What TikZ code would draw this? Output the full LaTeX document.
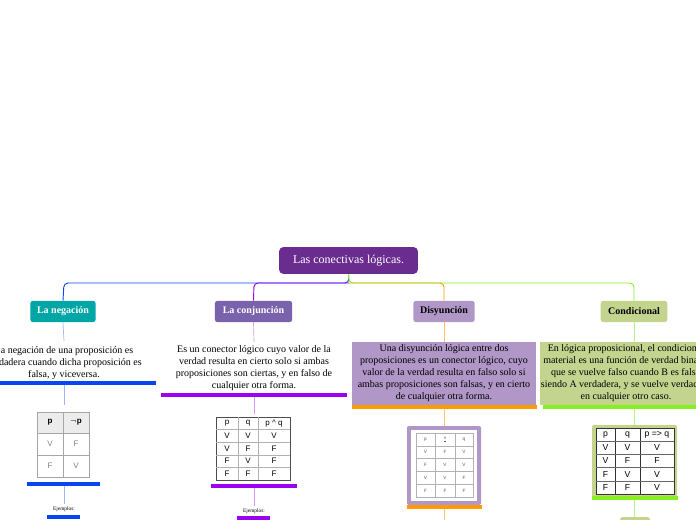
\documentclass[tikz,border=0pt]{standalone}
\usepackage{fontspec}
\setmainfont{Liberation Serif}
\newfontfamily\tabfont{Liberation Sans}
\definecolor{titlec}{HTML}{6A2C8E}
\definecolor{negc}{HTML}{00A6A6}
\definecolor{conc}{HTML}{7B62AC}
\definecolor{disc}{HTML}{B097C7}
\definecolor{cndc}{HTML}{C3D48F}
\definecolor{blueln}{HTML}{0A46F0}
\definecolor{purpln}{HTML}{9B00F0}
\definecolor{orgln}{HTML}{FF9A00}
\definecolor{grnln}{HTML}{88EE22}
\tikzset{
  topic/.style={rounded corners=2pt,minimum height=16pt,inner xsep=5pt,font=\fontsize{7.5}{9}\selectfont\bfseries},
  desc/.style={align=center,font=\fontsize{7.5}{9}\selectfont},
  uline/.style={line width=2.3pt},
  branch/.style={line width=0.7pt,rounded corners=3pt},
  stem/.style={line width=0.5pt},
  tabtxt/.style={font=\tabfont\fontsize{6}{7}\selectfont},
}
\begin{document}
\begin{tikzpicture}[x=0.75pt,y=-0.75pt]
  \useasboundingbox (0,0) rectangle (696,520);
  % central topic
  \node[fill=titlec,text=white,rounded corners=3pt,minimum width=104pt,minimum height=20pt,
        font=\fontsize{9}{11}\selectfont] (title) at (348.5,260.5) {Las conectivas lógicas.};
  \node[topic,fill=negc,text=white,minimum width=49pt] (neg) at (63,311.5) {La negación};
  \node[topic,fill=conc,text=white,minimum width=58pt] (con) at (253.5,311.5) {La conjunción};
  \node[topic,fill=disc,minimum width=46pt] (dis) at (444,311.5) {Disyunción};
  \node[topic,fill=cndc,minimum width=50pt] (cnd) at (634,311.5) {Condicional};
  % branches
  \draw[branch,blueln] (title.south) -- (349,283) -- (64,283) -- (neg.north);
  \draw[branch,purpln] (349,283) -- (254,283) -- (con.north);
  \draw[branch,orgln] (349,283) -- (444,283) -- (dis.north);
  \draw[branch,grnln] (title.south) -- (349,283) -- (634,283) -- (cnd.north);
  % la negacion
  \node[desc] (negtxt) at (64,363) {La negación de una proposición es\\verdadera cuando dicha proposición es\\falsa, y viceversa.};
  \draw[uline,blueln] (0,383) -- (156,383);
  \draw[stem,blueln!40] (neg.south) -- (64,341);
  \draw[stem,blueln!40] (64,385) -- (64,405);
  \fill[gray!15] (37,412) rectangle (89,433);
  \draw[gray!70] (37,412) rectangle (89,477) (63,412) -- (63,477) (37,433) -- (89,433) (37,455) -- (89,455);
  \foreach \x/\a/\b/\c in {50/p/V/F,76/$\neg$p/F/V}{
    \node[tabtxt] at (\x,422.5) {\textbf{\a}};
    \node[tabtxt,text=gray] at (\x,444) {\b};
    \node[tabtxt,text=gray] at (\x,466) {\c};}
  \draw[uline,blueln] (27,484) -- (100,484);
  \draw[stem,blueln!40] (64,486) -- (64,504);
  \node[font=\fontsize{4}{5}\selectfont] (negej) at (64,509) {Ejemplos:};
  \draw[uline,blueln] (47,517) -- (80,517);
  % la conjuncion
  \node[desc] (contxt) at (254,368) {Es un conector lógico cuyo valor de la\\verdad resulta en cierto solo si ambas\\proposiciones son ciertas, y en falso de\\cualquier otra forma.};
  \draw[stem,purpln!40] (con.south) -- (254,342);
  \draw[uline,purpln] (161,395) -- (347,395);
  \draw[stem,purpln!40] (254,397) -- (254,414);
  \draw[gray!60!black] (216,417) rectangle (290,480);
  \draw[gray!60] (238,417) -- (238,480) (258,417) -- (258,480);
  \foreach \y in {429.6,442.2,454.8,467.4} \draw[gray!60] (216,\y) -- (290,\y);
  \foreach \p/\q/\v [count=\i from 0] in {p/q/p \^{} q,V/V/V,V/F/F,F/V/F,F/F/F}{
    \node[tabtxt] at (227,423.3+12.6*\i) {\p};
    \node[tabtxt] at (248,423.3+12.6*\i) {\q};
    \node[tabtxt] at (274,423.3+12.6*\i) {\v};}
  \draw[uline,purpln] (211,486) -- (297,486);
  \draw[stem,purpln!40] (254,488) -- (254,506);
  \node[font=\fontsize{4}{5}\selectfont] (conej) at (254,511) {Ejemplos:};
  \draw[uline,purpln] (237,518) -- (270,518);
  % disyuncion
  \draw[stem,orgln!60] (dis.south) -- (444,342);
  \node[desc,fill=disc,minimum width=138pt,minimum height=47pt,inner sep=1pt] (distxt) at (444,373.5) {Una disyunción lógica entre dos\\proposiciones es un conector lógico, cuyo\\valor de la verdad resulta en falso solo si\\ambas proposiciones son falsas, y en cierto\\de cualquier otra forma.};
  \draw[uline,orgln] (352,407) -- (537,407);
  \draw[stem,orgln!60] (444,409) -- (444,426);
  \fill[disc,rounded corners=1pt] (407,426) rectangle (481,505);
  \fill[white] (411,430) rectangle (477,501);
  \draw[gray!60] (416,433) rectangle (473,497) (435,433) -- (435,497) (455,433) -- (455,497);
  \foreach \y in {445.8,458.6,471.4,484.2} \draw[gray!60] (416,\y) -- (473,\y);
  \foreach \p/\q/\v [count=\i from 0] in {p/\underline{v}/q,V/F/V,F/V/V,V/V/F,F/F/F}{
    \node[font=\tabfont\fontsize{3.5}{4}\selectfont,text=gray!70!black] at (425.5,439.4+12.8*\i) {\p};
    \node[font=\tabfont\fontsize{3.5}{4}\selectfont,text=gray!70!black] at (445,439.4+12.8*\i) {\q};
    \node[font=\tabfont\fontsize{3.5}{4}\selectfont,text=gray!70!black] at (464,439.4+12.8*\i) {\v};}
  \draw[uline,orgln] (407,507) -- (482,507);
  \draw[stem,orgln!60] (444,509) -- (444,520);
  % condicional
  \draw[stem,grnln!60] (cnd.south) -- (634,342);
  \node[desc,fill=cndc,minimum width=125pt,minimum height=47pt,inner sep=1pt] (cndtxt) at (626,373.5) {En lógica proposicional, el condicional\\material es una función de verdad binaria\\que se vuelve falso cuando B es falso\\siendo A verdadera, y se vuelve verdadero\\en cualquier otro caso.};
  \draw[uline,grnln] (543,407) -- (696,407);
  \draw[stem,grnln!60] (634,409) -- (634,425);
  \fill[cndc,rounded corners=1pt] (592,425) rectangle (677,497);
  \fill[white] (596,428) rectangle (674,494);
  \draw[black!80] (596,428) rectangle (674,494) (615,428) -- (615,494) (640,428) -- (640,494);
  \foreach \y in {441.2,454.4,467.6,480.8} \draw[black!60] (596,\y) -- (674,\y);
  \foreach \p/\q/\v [count=\i from 0] in {p/q/p => q,V/V/V,V/F/F,F/V/V,F/F/V}{
    \node[tabtxt,font=\tabfont\fontsize{6.5}{7}\selectfont] at (605.5,434.6+13.2*\i) {\p};
    \node[tabtxt,font=\tabfont\fontsize{6.5}{7}\selectfont] at (627.5,434.6+13.2*\i) {\q};
    \node[tabtxt,font=\tabfont\fontsize{6.5}{7}\selectfont] at (657,434.6+13.2*\i) {\v};}
  \draw[uline,grnln] (592,498) -- (678,498);
  \draw[stem,grnln!60] (634,500) -- (634,517);
  \fill[cndc,rounded corners=2pt] (620,517) rectangle (650,524);
\end{tikzpicture}
\end{document}
